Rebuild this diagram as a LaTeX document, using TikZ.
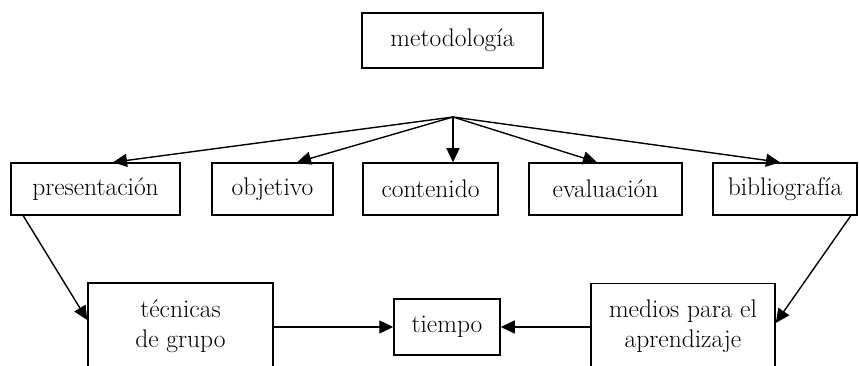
\documentclass[tikz,border=0pt]{standalone}
\usetikzlibrary{arrows.meta}
\begin{document}
\begin{tikzpicture}[x=1pt,y=1pt,
  box/.style={draw=black, line width=1.5pt, inner sep=0pt, align=center,
    font=\fontsize{25.5}{30}\selectfont},
  arr/.style={line width=1.4pt, -{Triangle[length=14pt,width=13pt]}}]
\useasboundingbox (0,0) rectangle (859,366);
\clip (0,0) rectangle (859,366);
\node[box, minimum width=181pt, minimum height=55pt] (meto) at (452.5,325.5) {metodología};
\coordinate (fan) at (453,249);
\node[box, minimum width=169pt, minimum height=52pt] (pres) at (95.5,177) {presentación};
\node[box, minimum width=121pt, minimum height=52pt] (obj) at (272.5,177) {objetivo};
\node[box, minimum width=135pt, minimum height=52pt] (cont) at (430.5,177) {contenido};
\node[box, minimum width=153pt, minimum height=52pt] (eval) at (605.5,177) {evaluación};
\node[box, minimum width=144pt, minimum height=52pt] (bib) at (785,177) {bibliografía};
\node[box, minimum width=185pt, minimum height=86pt] (tec) at (180.5,40) {técnicas\\de grupo};
\node[box, minimum width=106pt, minimum height=56pt] (tiem) at (447,39) {tiempo};
\node[box, minimum width=184pt, minimum height=86pt] (med) at (683,39.5) {medios para el\\aprendizaje};
\draw[arr] (fan) -- ([xshift=17.5pt]pres.north);
\draw[arr] (fan) -- ([xshift=24.5pt]obj.north);
\draw[arr] (fan) -- ([xshift=22.5pt]cont.north);
\draw[arr] (fan) -- ([xshift=-8.5pt]eval.north);
\draw[arr] (fan) -- ([xshift=-5pt]bib.north);
\draw[arr] ([xshift=13pt]pres.south west) -- ([yshift=6pt]tec.west);
\draw[arr] ([xshift=-7pt]bib.south east) -- ([yshift=3.5pt]med.east);
\draw[arr] (tec.east |- tiem.west) -- (tiem.west);
\draw[arr] (med.west |- tiem.east) -- (tiem.east);
\end{tikzpicture}
\end{document}
